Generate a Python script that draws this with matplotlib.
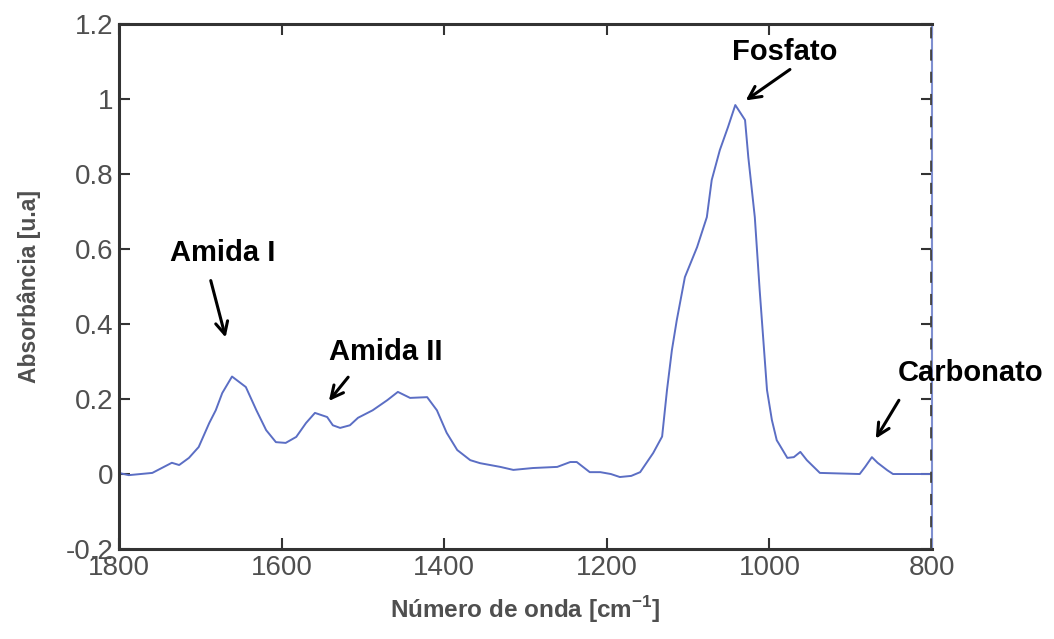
import matplotlib.pyplot as plt

# FTIR spectrum (wavenumber in cm-1, absorbance in u.a)
wavenumber = [1800, 1788, 1759, 1735, 1726, 1714, 1702, 1689, 1681, 1673, 1661,
              1644, 1631, 1619, 1607, 1595, 1582, 1570, 1559, 1544, 1537, 1528,
              1516, 1506, 1488, 1470, 1457, 1442, 1421, 1409, 1397, 1384, 1368,
              1356, 1331, 1315, 1291, 1261, 1245, 1237, 1221, 1208, 1195, 1184,
              1170, 1159, 1143, 1132, 1126, 1120, 1114, 1104, 1089, 1077, 1071,
              1061, 1051, 1042, 1030, 1026, 1018, 1012, 1003, 997, 991, 989,
              978, 970, 962, 954, 946, 938, 889, 882, 874, 867, 855, 848, 800]
absorbance = [0.003, -0.003, 0.003, 0.03, 0.024, 0.043, 0.072, 0.136, 0.17, 0.216, 0.26,
              0.232, 0.17, 0.117, 0.085, 0.083, 0.099, 0.136, 0.163, 0.152, 0.13, 0.123,
              0.13, 0.15, 0.17, 0.197, 0.219, 0.203, 0.205, 0.17, 0.11, 0.064, 0.037,
              0.029, 0.019, 0.011, 0.016, 0.019, 0.032, 0.032, 0.005, 0.005, 0.0, -0.008,
              -0.005, 0.005, 0.056, 0.1, 0.224, 0.33, 0.41, 0.525, 0.605, 0.685, 0.784,
              0.864, 0.925, 0.984, 0.944, 0.845, 0.685, 0.49, 0.224, 0.144, 0.09, 0.083,
              0.043, 0.045, 0.059, 0.037, 0.02, 0.003, 0.0, 0.02, 0.045, 0.03, 0.01, 0.0, 0.0]

# peak labels: text, text position, arrow tail and tip
labels = ["Amida I", "Amida II", "Fosfato", "Carbonato"]
text_pos = [(1673, 0.59), (1472, 0.325), (981, 1.125), (753, 0.27)]
arrow_tail = [(1688, 0.523), (1516, 0.264), (972, 1.083), (839, 0.203)]
arrow_head = [(1668, 0.357), (1544, 0.189), (1032, 0.992), (871, 0.088)]

yticks = [-0.2, 0, 0.2, 0.4, 0.6, 0.8, 1, 1.2]
ytick_labels = ["-0.2", "0", "0.2", "0.4", "0.6", "0.8", "1", "1.2"]
xticks = [1800, 1600, 1400, 1200, 1000, 800]

plt.rcParams['font.family'] = ['Liberation Sans', 'DejaVu Sans']

fig = plt.figure(figsize=(10.54, 6.39), dpi=100)
ax = fig.add_axes([0.1129, 0.1408, 0.7714, 0.8216])

ax.plot(wavenumber, absorbance, color="#5b6ec4", lw=1.4)

ax.set_xlim(1800, 800)
ax.set_ylim(-0.2, 1.2)
ax.set_xticks(xticks)
ax.set_yticks(yticks)
ax.set_yticklabels(ytick_labels)

grey = "#4f4f4f"
ax.tick_params(direction="in", length=8, width=1.5, colors="#333333",
               labelcolor=grey, labelsize=20, top=True, right=True, pad=4)
for side in ["left", "bottom", "top"]:
    ax.spines[side].set_color("#333333")
    ax.spines[side].set_linewidth(2.2)
ax.spines["right"].set_color("#7f8fd0")
ax.spines["right"].set_linewidth(1.5)
ax.axvline(801.5, color="#444444", lw=2, ls=(0, (4, 4)), zorder=3)

ax.set_xlabel("Número de onda [cm$^{\\mathregular{-1}}$]", fontsize=17.5,
              fontweight="bold", color=grey, labelpad=10)
ax.set_ylabel("Absorbância [u.a]", fontsize=16.5, fontweight="bold",
              color=grey, labelpad=18)

for name, pos, tail, head in zip(labels, text_pos, arrow_tail, arrow_head):
    ax.text(pos[0], pos[1], name, fontsize=21, fontweight="bold",
            ha="center", va="center", color="black", clip_on=False)
    ax.annotate("", xy=head, xytext=tail,
                arrowprops=dict(arrowstyle="->", color="black", lw=2.2,
                                mutation_scale=22))

fig.savefig("out.png", dpi=100)
